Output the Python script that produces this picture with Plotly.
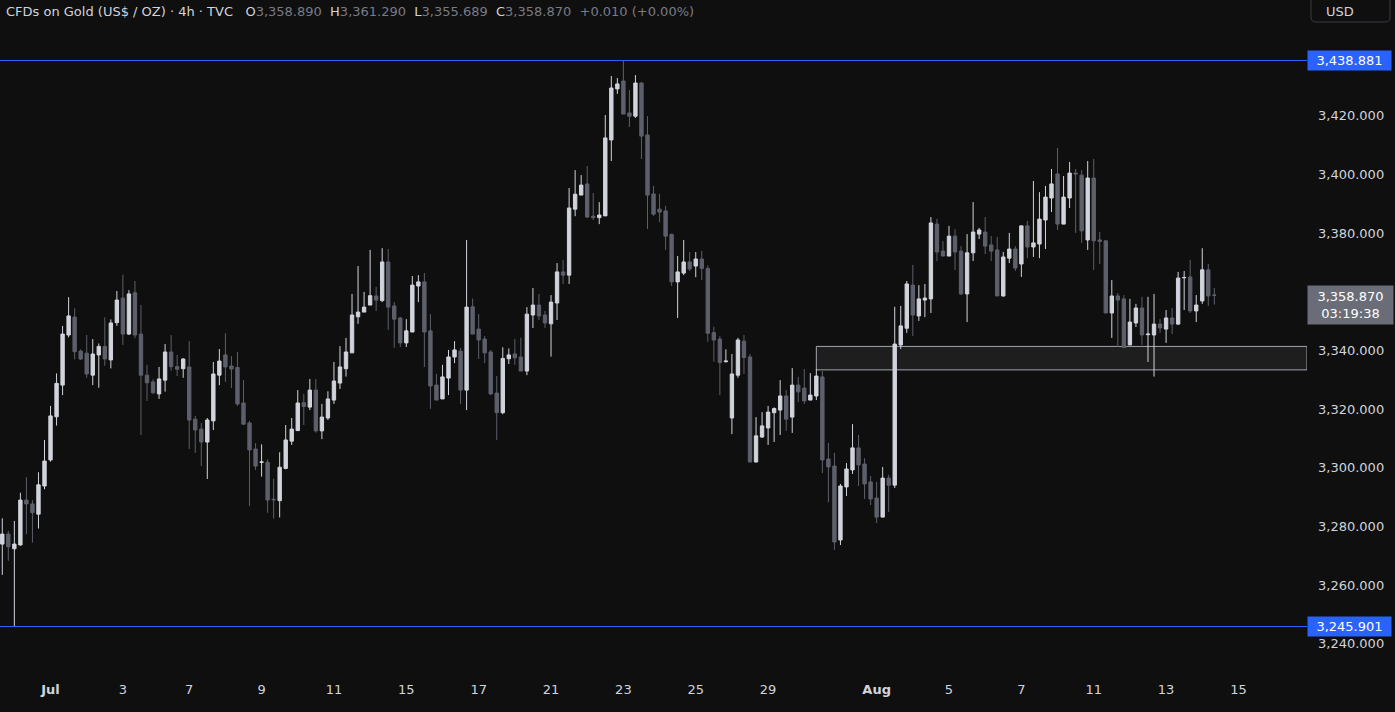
import plotly.graph_objects as go

# ---------------- data ----------------
opens = [3274.0, 3277.4, 3272.4, 3273.7, 3289.0, 3287.7, 3284.2, 3293.8, 3302.7, 3317.4,
         3328.2, 3345.3, 3351.4, 3339.8, 3339.1, 3331.6, 3338.5, 3341.4, 3336.8, 3349.5,
         3357.9, 3345.6, 3359.7, 3345.6, 3331.6, 3329.3, 3325.2, 3329.9, 3339.5, 3334.5,
         3333.8, 3334.4, 3316.6, 3313.2, 3308.8, 3316.0, 3331.6, 3338.5, 3334.7, 3334.2,
         3322.1, 3315.3, 3306.4, 3301.9, 3301.9, 3289.3, 3288.8, 3299.8, 3309.1, 3312.7,
         3322.2, 3320.7, 3326.5, 3312.6, 3317.0, 3323.1, 3328.9, 3333.8, 3339.2, 3351.5,
         3353.1, 3355.5, 3358.6, 3357.0, 3370.2, 3355.2, 3351.1, 3342.6, 3346.3, 3362.0,
         3363.4, 3346.7, 3328.2, 3323.5, 3330.6, 3337.8, 3339.8, 3326.5, 3354.9, 3347.3,
         3343.9, 3339.5, 3325.5, 3318.8, 3337.2, 3338.8, 3337.8, 3333.0, 3352.1, 3355.5,
         3352.1, 3349.1, 3356.2, 3366.8, 3365.7, 3388.2, 3393.0, 3396.8, 3385.8, 3385.3,
         3385.9, 3411.8, 3429.2, 3431.9, 3421.0, 3419.9, 3431.2, 3413.5, 3393.4, 3388.2,
         3387.6, 3379.6, 3363.4, 3366.4, 3370.2, 3368.8, 3371.2, 3368.0, 3346.1, 3343.9,
         3336.2, 3317.0, 3331.6, 3343.2, 3337.8, 3302.0, 3310.5, 3313.6, 3318.8, 3319.7,
         3324.5, 3317.3, 3328.2, 3327.2, 3323.1, 3324.5, 3331.0, 3303.0, 3300.6, 3275.4,
         3293.5, 3299.3, 3306.8, 3301.3, 3295.2, 3289.7, 3283.2, 3296.5, 3294.1, 3341.9,
         3347.6, 3362.3, 3351.8, 3357.2, 3357.6, 3383.1, 3373.9, 3372.2, 3379.0, 3373.9,
         3359.3, 3373.3, 3379.7, 3380.4, 3376.0, 3374.3, 3358.6, 3371.5, 3374.6, 3369.5,
         3382.5, 3375.3, 3376.3, 3384.5, 3392.0, 3400.2, 3383.1, 3392.0, 3400.5, 3399.8,
         3377.7, 3398.8, 3377.7, 3377.4, 3352.8, 3358.6, 3357.6, 3341.9, 3349.4, 3354.5,
         3345.4, 3345.3, 3349.0, 3347.3, 3351.1, 3349.0, 3364.8, 3365.1, 3353.5, 3356.9,
         3367.5, 3358.890]
highs = [3282.8, 3278.5, 3281.9, 3291.5, 3296.8, 3289.0, 3298.5, 3309.5, 3321.1, 3332.2,
         3348.4, 3358.2, 3354.4, 3340.4, 3345.3, 3343.9, 3342.4, 3351.3, 3350.6, 3360.3,
         3365.8, 3360.6, 3363.7, 3355.5, 3335.1, 3330.2, 3334.4, 3342.2, 3345.3, 3338.5,
         3337.4, 3343.2, 3317.7, 3315.3, 3317.0, 3336.1, 3340.5, 3345.9, 3338.1, 3339.5,
         3329.9, 3316.0, 3308.4, 3308.0, 3302.9, 3296.3, 3305.3, 3314.6, 3317.0, 3326.5,
         3325.2, 3330.3, 3330.3, 3321.8, 3326.1, 3336.1, 3341.5, 3344.3, 3359.3, 3368.8,
         3360.0, 3374.3, 3361.7, 3374.9, 3374.6, 3356.5, 3351.4, 3350.7, 3365.4, 3365.7,
         3366.4, 3352.4, 3332.0, 3335.1, 3340.2, 3343.2, 3340.9, 3377.7, 3357.7, 3352.4,
         3344.9, 3340.2, 3331.3, 3341.1, 3340.7, 3343.9, 3344.4, 3354.8, 3361.3, 3359.3,
         3353.5, 3358.9, 3369.8, 3370.9, 3395.4, 3401.5, 3399.8, 3402.9, 3393.7, 3390.6,
         3420.3, 3433.6, 3432.9, 3438.881, 3428.8, 3433.9, 3431.5, 3419.9, 3396.1, 3393.4,
         3389.3, 3379.9, 3372.2, 3377.7, 3373.6, 3373.6, 3374.0, 3369.0, 3348.1, 3344.9,
         3340.4, 3338.8, 3344.3, 3345.3, 3338.8, 3317.3, 3319.0, 3321.1, 3320.6, 3329.9,
         3326.5, 3334.0, 3331.0, 3333.7, 3332.3, 3333.7, 3333.0, 3308.5, 3305.1, 3294.5,
         3301.6, 3314.9, 3311.2, 3303.3, 3297.2, 3295.2, 3300.3, 3297.6, 3354.9, 3355.2,
         3363.7, 3369.2, 3362.3, 3362.7, 3385.5, 3384.9, 3377.3, 3382.5, 3381.4, 3375.6,
         3379.7, 3390.6, 3381.8, 3385.5, 3379.0, 3378.7, 3373.6, 3380.1, 3375.6, 3382.5,
         3384.2, 3397.8, 3394.0, 3396.1, 3401.9, 3409.1, 3399.5, 3404.3, 3401.9, 3401.5,
         3404.6, 3405.3, 3380.4, 3377.4, 3364.0, 3359.6, 3358.9, 3357.6, 3355.9, 3358.3,
         3358.3, 3359.3, 3350.7, 3353.8, 3354.5, 3366.8, 3367.1, 3370.9, 3358.9, 3374.9,
         3369.5, 3361.290]
lows = [3263.5, 3268.3, 3245.901, 3273.5, 3277.4, 3274.5, 3279.3, 3292.7, 3302.1, 3314.4,
        3324.8, 3344.5, 3337.0, 3336.8, 3330.7, 3328.2, 3327.3, 3334.8, 3333.9, 3348.4,
        3341.9, 3345.3, 3344.2, 3311.2, 3322.8, 3325.2, 3323.5, 3326.0, 3333.1, 3331.3,
        3330.7, 3306.4, 3305.1, 3300.6, 3296.2, 3312.9, 3328.2, 3329.3, 3327.2, 3321.1,
        3314.6, 3287.0, 3299.3, 3297.0, 3284.7, 3282.7, 3283.1, 3299.5, 3307.8, 3312.7,
        3314.6, 3319.7, 3312.0, 3309.8, 3316.3, 3321.8, 3326.9, 3331.1, 3339.2, 3349.1,
        3353.1, 3355.5, 3353.5, 3356.5, 3347.0, 3340.9, 3341.2, 3341.2, 3346.3, 3356.5,
        3334.4, 3320.1, 3323.1, 3323.5, 3324.8, 3335.7, 3321.8, 3319.7, 3345.6, 3337.1,
        3335.7, 3324.8, 3309.5, 3318.3, 3335.4, 3335.1, 3333.0, 3331.6, 3347.7, 3350.4,
        3347.7, 3337.9, 3350.4, 3362.7, 3362.7, 3385.8, 3393.0, 3385.2, 3384.5, 3383.1,
        3385.9, 3404.6, 3427.5, 3420.6, 3416.2, 3419.3, 3405.3, 3381.4, 3385.9, 3383.8,
        3374.3, 3362.0, 3351.1, 3365.7, 3367.1, 3365.0, 3364.0, 3343.0, 3336.2, 3324.8,
        3335.9, 3311.5, 3330.7, 3332.0, 3301.8, 3301.8, 3310.2, 3307.8, 3308.8, 3311.2,
        3312.6, 3311.9, 3322.4, 3321.8, 3323.1, 3323.1, 3298.2, 3288.3, 3272.0, 3273.7,
        3290.4, 3297.9, 3293.8, 3289.4, 3287.3, 3281.2, 3283.2, 3284.9, 3293.1, 3340.5,
        3346.0, 3344.9, 3350.1, 3351.4, 3352.8, 3370.5, 3372.2, 3372.2, 3367.5, 3358.9,
        3349.7, 3370.5, 3378.0, 3372.9, 3370.5, 3358.6, 3358.3, 3369.8, 3367.1, 3365.1,
        3371.5, 3371.9, 3371.5, 3374.6, 3387.2, 3381.1, 3383.1, 3388.6, 3380.1, 3376.7,
        3374.3, 3367.5, 3369.5, 3352.8, 3344.3, 3341.2, 3340.9, 3341.9, 3348.0, 3341.9,
        3336.1, 3331.1, 3346.0, 3342.6, 3345.6, 3348.7, 3353.8, 3352.8, 3349.7, 3355.9,
        3355.2, 3355.689]
closes = [3277.4, 3273.1, 3274.0, 3289.0, 3287.7, 3284.7, 3294.2, 3302.3, 3317.7, 3328.8,
          3345.6, 3351.8, 3339.6, 3337.1, 3332.0, 3338.8, 3341.4, 3337.1, 3349.4, 3357.2,
          3345.6, 3359.3, 3345.3, 3331.6, 3329.0, 3325.6, 3330.3, 3339.5, 3334.5, 3333.6,
          3337.1, 3316.3, 3312.9, 3308.8, 3316.3, 3332.0, 3336.4, 3334.4, 3333.7, 3321.8,
          3314.9, 3306.1, 3300.6, 3302.0, 3289.0, 3289.1, 3300.2, 3309.5, 3313.2, 3322.1,
          3320.9, 3326.5, 3312.6, 3317.3, 3323.5, 3329.6, 3334.4, 3339.5, 3352.1, 3353.1,
          3354.8, 3358.7, 3357.2, 3370.2, 3354.8, 3350.7, 3342.6, 3346.7, 3362.3, 3363.4,
          3346.3, 3327.9, 3323.1, 3331.0, 3337.8, 3340.2, 3326.5, 3354.8, 3345.6, 3343.6,
          3339.2, 3325.2, 3318.8, 3337.3, 3338.5, 3337.5, 3333.0, 3352.4, 3355.5, 3351.8,
          3349.4, 3356.5, 3366.8, 3365.7, 3388.6, 3393.3, 3396.4, 3385.5, 3385.3, 3386.2,
          3412.5, 3429.5, 3430.9, 3420.6, 3419.9, 3431.2, 3413.1, 3393.0, 3386.5, 3387.2,
          3379.0, 3363.4, 3366.8, 3370.2, 3367.8, 3371.2, 3368.0, 3345.9, 3343.6, 3335.9,
          3336.4, 3332.0, 3343.6, 3337.6, 3302.0, 3310.9, 3314.3, 3319.0, 3320.2, 3324.5,
          3316.6, 3328.2, 3325.9, 3322.8, 3324.8, 3331.3, 3302.7, 3300.3, 3274.7, 3293.8,
          3299.6, 3306.8, 3301.0, 3294.5, 3289.4, 3283.2, 3296.5, 3294.1, 3342.2, 3348.4,
          3362.7, 3352.1, 3357.6, 3357.9, 3383.5, 3373.6, 3372.2, 3379.0, 3373.6, 3359.3,
          3373.3, 3380.4, 3381.1, 3375.6, 3373.9, 3358.6, 3371.9, 3374.6, 3368.1, 3382.5,
          3375.3, 3376.7, 3384.8, 3392.3, 3396.8, 3383.1, 3392.3, 3400.5, 3400.2, 3380.8,
          3398.8, 3377.4, 3377.2, 3352.8, 3358.6, 3357.2, 3341.0, 3349.7, 3354.5, 3345.3,
          3345.6, 3349.0, 3347.7, 3351.1, 3349.0, 3364.7, 3364.9, 3353.5, 3355.5, 3367.5,
          3358.6, 3358.870]

# time axis: bar index of each labelled day
tick_idx = [8, 20, 31, 43, 55, 67, 79, 91, 103, 115, 127, 145, 157, 169, 181, 193, 205]
tick_text = ["<b>Jul</b>", "3", "7", "9", "11", "15", "17", "21", "23", "25", "29",
             "<b>Aug</b>", "5", "7", "11", "13", "15"]
# 3,360 is hidden behind the live-price label in the reference
price_ticks = [3240, 3260, 3280, 3300, 3320, 3340, 3380, 3400, 3420]

level_high = 3438.881
level_low = 3245.901
zone_low = 3333.4
zone_high = 3341.4
zone_start = 135
countdown = "03:19:38"
prev_close = 3358.860

x_range = [-0.38, 216.37]
y_range = [3227.66, 3459.51]

# ---------------- styling ----------------
BG = "#0f0f0f"
UP = "#d1d4dc"
DOWN = "#5d606b"
TXT = "#d1d4dc"
MUTED = "#787b86"
BLUE = "#2962ff"
FONT = "DejaVu Sans"

x = list(range(len(opens)))

fig = go.Figure(go.Candlestick(
    x=x, open=opens, high=highs, low=lows, close=closes,
    increasing=dict(fillcolor=UP, line=dict(color=UP, width=1)),
    decreasing=dict(fillcolor=DOWN, line=dict(color=DOWN, width=1)),
    whiskerwidth=0, hoverinfo="skip", showlegend=False,
))

shapes = [
    dict(type="rect", xref="x", yref="y", x0=zone_start, x1=x_range[1],
         y0=zone_low, y1=zone_high, fillcolor="#1e1e1e",
         line=dict(color="#a3a6af", width=1), layer="below"),
    dict(type="line", xref="paper", yref="y", x0=0, x1=1, y0=level_high, y1=level_high,
         line=dict(color=BLUE, width=1)),
    dict(type="line", xref="paper", yref="y", x0=0, x1=1, y0=level_low, y1=level_low,
         line=dict(color=BLUE, width=1)),
]

# USD box (top right, in paper units relative to plot area 1307x680 px)
def px(xp):
    return xp / 1307.0

def py(yp):
    return (680.0 - yp) / 680.0

rx, ry = 5, 5
x0b, x1b, y0b, y1b = 1311, 1390, -6, 22
path = (f"M {px(x0b + rx)},{py(y1b)} L {px(x1b - rx)},{py(y1b)} "
        f"Q {px(x1b)},{py(y1b)} {px(x1b)},{py(y1b - ry)} L {px(x1b)},{py(y0b)} "
        f"L {px(x0b)},{py(y0b)} L {px(x0b)},{py(y1b - ry)} "
        f"Q {px(x0b)},{py(y1b)} {px(x0b + rx)},{py(y1b)} Z")
shapes.append(dict(type="path", xref="paper", yref="paper", path=path,
                   line=dict(color="#3a3d45", width=1), fillcolor=BG))

o, h, l, c = opens[-1], highs[-1], lows[-1], closes[-1]
chg = c - prev_close
def val(s):
    return f"<span style='color:{MUTED}'>{s}</span>"
header = ("CFDs on Gold (US$ / OZ) · 4h · TVC&nbsp;&nbsp;&nbsp;"
          f"O{val(f'{o:,.3f}')}&nbsp; H{val(f'{h:,.3f}')}&nbsp; L{val(f'{l:,.3f}')}&nbsp; "
          f"C{val(f'{c:,.3f}')}&nbsp; {val(f'{chg:+.3f} ({chg / prev_close * 100:+.2f}%)')}")

annotations = [
    dict(xref="paper", yref="paper", x=0, y=1, xanchor="left", yanchor="top",
         xshift=4, yshift=-2, text=header, showarrow=False,
         font=dict(family=FONT, size=13, color=TXT)),
    dict(xref="paper", yref="paper", x=px(1324), y=py(11), xanchor="left", yanchor="middle",
         text="USD", showarrow=False, font=dict(family=FONT, size=13, color=TXT)),
]
for lvl in (level_high, level_low):
    annotations.append(dict(
        xref="paper", yref="y", x=1, y=lvl, xanchor="left", yanchor="middle",
        text=f"{lvl:,.3f}", showarrow=False, bgcolor=BLUE, width=79, borderpad=2,
        align="center", font=dict(family=FONT, size=13, color="#ffffff")))
annotations.append(dict(
    xref="paper", yref="y", x=1, y=closes[-1], xanchor="left", yanchor="top",
    yshift=10, text=f"{closes[-1]:,.3f}<br>{countdown}", showarrow=False,
    bgcolor="#6a6d78", width=79, borderpad=3, align="center",
    font=dict(family=FONT, size=13, color="#ffffff")))

fig.update_layout(
    width=1395, height=712,
    margin=dict(l=0, r=88, t=0, b=32),
    paper_bgcolor=BG, plot_bgcolor=BG,
    boxgap=0.2,
    hovermode=False,
    showlegend=False,
    shapes=shapes,
    annotations=annotations,
    xaxis=dict(range=x_range, tickvals=tick_idx, ticktext=tick_text,
               showgrid=False, zeroline=False, showline=False, ticks="",
               tickfont=dict(family=FONT, size=13, color=TXT),
               rangeslider=dict(visible=False), fixedrange=True),
    yaxis=dict(range=y_range, side="right", tickvals=price_ticks, tickformat=",.3f",
               showgrid=False, zeroline=False, showline=False, ticks="",
               ticklabelstandoff=10,
               tickfont=dict(family=FONT, size=13, color=TXT), fixedrange=True),
)

fig.write_html(
    "out.html",
    config={"displayModeBar": False},
    post_script="document.body.style.margin='0';document.body.style.overflow='hidden';"
                "document.body.style.background='" + BG + "';",
)
